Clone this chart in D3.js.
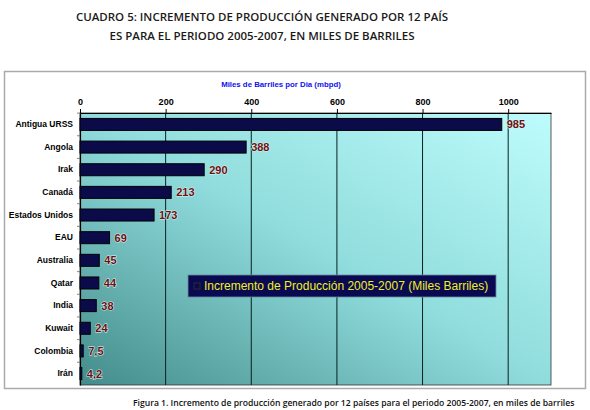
<!DOCTYPE html>
<html>
<head>
<meta charset="utf-8">
<script src="https://cdn.jsdelivr.net/npm/d3@7"></script>
<style>
  body { margin: 0; background: #fff; }
  svg { display: block; }
</style>
</head>
<body>
<div id="chart"></div>
<script>
var paises = ['Antigua URSS', 'Angola', 'Irak', 'Canadá', 'Estados Unidos', 'EAU',
              'Australia', 'Qatar', 'India', 'Kuwait', 'Colombia', 'Irán'];
var incremento = [985, 388, 290, 213, 173, 69, 45, 44, 38, 24, 7.5, 4.2];
var ticksX = [0, 200, 400, 600, 800, 1000];
var titulo = ['CUADRO 5: INCREMENTO DE PRODUCCIÓN GENERADO POR 12 PAÍS',
              'ES PARA EL PERIODO 2005-2007, EN MILES DE BARRILES'];
var tituloEje = 'Miles de Barriles por Dia (mbpd)';
var leyenda = 'Incremento de Producción 2005-2007 (Miles Barriles)';
var pie = 'Figura 1. Incremento de producción generado por 12 países para el periodo 2005-2007, en miles de barriles';

var W = 590, H = 410;
var plot = {left: 80, right: 551, top: 113, bottom: 385};

var svg = d3.select('#chart').append('svg')
    .attr('width', W)
    .attr('height', H);

var defs = svg.append('defs');
var grad = defs.append('linearGradient')
    .attr('id', 'fondo')
    .attr('x1', '0%').attr('y1', '100%')
    .attr('x2', '100%').attr('y2', '0%');
grad.append('stop').attr('offset', '0%').attr('stop-color', '#448c8c');
grad.append('stop').attr('offset', '50%').attr('stop-color', '#90dcdc');
grad.append('stop').attr('offset', '100%').attr('stop-color', '#befcfc');

// title
svg.append('g').selectAll('text')
    .data(titulo)
    .enter().append('text')
    .attr('x', 262)
    .attr('y', function(d, i) { return 21 + i * 19; })
    .attr('text-anchor', 'middle')
    .style('font-family', '"Open Sans", sans-serif')
    .style('font-size', '11.5px')
    .style('font-weight', '600')
    .style('fill', '#1a1a1a')
    .text(function(d) { return d; });

// outer frame
svg.append('rect')
    .attr('x', 4.5).attr('y', 71.5)
    .attr('width', 581).attr('height', 317)
    .attr('fill', '#fff')
    .attr('stroke', '#aaa')
    .attr('stroke-width', 1.5);

var x = d3.scaleLinear()
    .domain([0, 1100])
    .range([plot.left, plot.right]);

var y = d3.scaleBand()
    .domain(paises)
    .range([plot.top, plot.bottom])
    .paddingInner(0.47)
    .paddingOuter(0.24);

svg.append('rect')
    .attr('x', plot.left).attr('y', plot.top)
    .attr('width', plot.right - plot.left)
    .attr('height', plot.bottom - plot.top)
    .attr('fill', 'url(#fondo)')
    .attr('stroke', '#333')
    .attr('stroke-width', 0.8);

// vertical grid
svg.append('g').selectAll('line')
    .data(ticksX.slice(1))
    .enter().append('line')
    .attr('x1', function(d) { return x(d); })
    .attr('x2', function(d) { return x(d); })
    .attr('y1', plot.top)
    .attr('y2', plot.bottom)
    .attr('stroke', '#0a2020')
    .attr('stroke-width', 1);

// top axis
var ejeX = svg.append('g')
    .attr('transform', 'translate(0,' + plot.top + ')')
    .call(d3.axisTop(x).tickValues(ticksX).tickFormat(d3.format('d')).tickSize(4).tickSizeOuter(0));
ejeX.select('.domain').attr('stroke', '#000').attr('stroke-width', 1.2);
ejeX.selectAll('text')
    .attr('y', -8)
    .style('font-family', 'Arial, "Liberation Sans", sans-serif')
    .style('font-size', '9px')
    .style('font-weight', 'bold')
    .style('fill', '#000');

svg.append('text')
    .attr('x', 281)
    .attr('y', 87)
    .attr('text-anchor', 'middle')
    .style('font-family', 'Arial, "Liberation Sans", sans-serif')
    .style('font-size', '7.8px')
    .style('font-weight', 'bold')
    .style('fill', '#1010ee')
    .text(tituloEje);

// left axis
var ejeY = svg.append('g')
    .attr('transform', 'translate(' + plot.left + ',0)')
    .call(d3.axisLeft(y).tickSize(0).tickPadding(7));
ejeY.select('.domain').attr('stroke', '#000').attr('stroke-width', 1.2);
ejeY.selectAll('text')
    .style('font-family', 'Arial, "Liberation Sans", sans-serif')
    .style('font-size', '8.5px')
    .style('font-weight', 'bold')
    .style('fill', '#000');

// small separators between categories
svg.append('g').selectAll('line')
    .data(paises)
    .enter().append('line')
    .attr('x1', plot.left - 3)
    .attr('x2', plot.left)
    .attr('y1', function(d) { return y(d) - y.step() * y.paddingInner() / 2; })
    .attr('y2', function(d) { return y(d) - y.step() * y.paddingInner() / 2; })
    .attr('stroke', '#666')
    .attr('stroke-width', 0.8);

// bars
svg.append('g').selectAll('rect')
    .data(incremento)
    .enter().append('rect')
    .attr('x', x(0))
    .attr('y', function(d, i) { return y(paises[i]); })
    .attr('width', function(d) { return x(d) - x(0); })
    .attr('height', y.bandwidth())
    .attr('fill', '#0b0b4a')
    .attr('stroke', '#000')
    .attr('stroke-width', 1);

// value labels
var fmt = function(d) { return String(d).replace('.', ','); };
svg.append('g').selectAll('text')
    .data(incremento)
    .enter().append('text')
    .attr('x', function(d) { return x(d) + 5; })
    .attr('y', function(d, i) { return y(paises[i]) + y.bandwidth() / 2; })
    .attr('dy', '0.36em')
    .style('font-family', 'Arial, "Liberation Sans", sans-serif')
    .style('font-size', '11px')
    .style('font-weight', 'bold')
    .style('fill', '#6e1010')
    .style('stroke', '#d8f4f4')
    .style('stroke-width', '1px')
    .style('paint-order', 'stroke')
    .text(fmt);

// legend
var ley = svg.append('g').attr('transform', 'translate(188,275)');
ley.append('rect')
    .attr('width', 308).attr('height', 22)
    .attr('fill', '#0a0a52')
    .attr('stroke', '#6a8a9a')
    .attr('stroke-width', 0.8);
ley.append('rect')
    .attr('x', 6).attr('y', 8)
    .attr('width', 6).attr('height', 6)
    .attr('fill', '#0b0b4a')
    .attr('stroke', '#333')
    .attr('stroke-width', 0.8);
ley.append('text')
    .attr('x', 16)
    .attr('y', 11)
    .attr('dy', '0.36em')
    .style('font-family', 'Arial, "Liberation Sans", sans-serif')
    .style('font-size', '12px')
    .style('fill', '#f0f020')
    .text(leyenda);

// caption
svg.append('text')
    .attr('x', 133)
    .attr('y', 406)
    .style('font-family', '"Open Sans", sans-serif')
    .style('font-size', '8.6px')
    .style('font-weight', '600')
    .style('fill', '#111')
    .text(pie);
</script>
</body>
</html>
